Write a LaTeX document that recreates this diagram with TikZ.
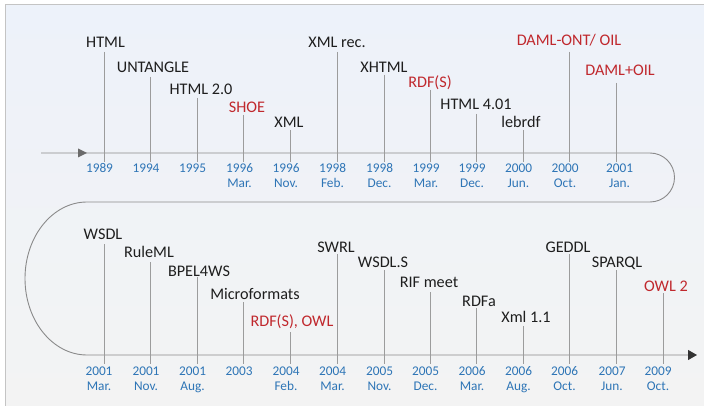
\documentclass[tikz,border=0pt]{standalone}
\usepackage{fontspec}
\setmainfont{Carlito}
\usetikzlibrary{arrows.meta}

\definecolor{evblack}{HTML}{1E1E1E}
\definecolor{evred}{HTML}{C0282D}
\definecolor{evblue}{HTML}{2E75B6}
\definecolor{axisgray}{HTML}{8A8A8A}
\definecolor{tickgray}{HTML}{9C9C9C}
\definecolor{framegray}{HTML}{C4C4C4}
\definecolor{bgtop}{HTML}{EDF2FA}
\definecolor{bgbot}{HTML}{F3F3F3}

% one dated tick: #1 name, #2 tick x, #3 tick top, #4 axis y, #5 date x, #6 year, #7 month
\newcommand{\evtick}[7]{%
  \coordinate (#1-top) at (#2,#3);
  \coordinate (#1-bot) at ({#2},{#4+9});
  \draw[tickline] (#1-top) -- (#1-bot);
  \node[datelbl] (#1-yr) at ({#5},{#4+20}) {#6};
  \if\relax\detokenize{#7}\relax\else
    \node[datelbl] (#1-mo) at ({#5},{#4+35}) {#7};
  \fi
}

\begin{document}
\begin{tikzpicture}[x=1pt,y=-1pt,
  lbl/.style={anchor=base, inner sep=0pt, text=evblack, font=\fontsize{16.2}{19}\selectfont},
  hot/.style={lbl, text=evred},
  datelbl/.style={anchor=base, inner sep=0pt, text=evblue, font=\fontsize{13.3}{15}\selectfont},
  tickline/.style={draw=tickgray, line width=0.8pt},
  axisline/.style={draw=axisgray, line width=0.9pt}]

\useasboundingbox (0,0) rectangle (704,406);

% panel background and frame
\shade[top color=bgtop, bottom color=bgbot] (5,5) rectangle (704,406);
\draw[framegray, line width=1pt] (5,406) -- (5,5) -- (704,5);

% the winding time axis
\draw[axisline, -{Triangle[length=9pt,width=10pt,color=black!80]}]
  (41,153) -- (650,153)
  arc[start angle=-90, end angle=90, radius=24.5]
  -- (87,202)
  arc[start angle=-90, end angle=-270, x radius=62, y radius=76.5]
  -- (697,355);
\fill[black!58] (78,148.5) -- (87,153) -- (78,157.5) -- cycle;

% ---- first row (axis at 153) ----
\node[lbl] (html)     at (105.5,48)  {HTML};
\node[lbl] (untangle) at (153,73)    {UNTANGLE};
\node[lbl] (htmltwo)  at (201,95)    {HTML 2.0};
\node[hot] (shoe)     at (247,113)   {SHOE};
\node[lbl] (xml)      at (289,128)   {XML};
\node[lbl] (xmlrec)   at (337,48)    {XML rec.};
\node[lbl] (xhtml)    at (384,72.5)  {XHTML};
\node[hot] (rdfs)     at (430,88)    {RDF(S)};
\node[lbl] (htmlfour) at (476,110)   {HTML 4.01};
\node[lbl] (lebrdf)   at (521,127.5) {lebrdf};
\node[hot] (damlont)  at (569,45.5)  {DAML-ONT/ OIL};
\node[hot] (damloil)  at (620,76)    {DAML+OIL};

\evtick{a1}{104}{52}{153}{99.5}{1989}{}
\evtick{a2}{150.5}{77}{153}{146}{1994}{}
\evtick{a3}{197}{98}{153}{192.5}{1995}{}
\evtick{a4}{243.5}{115}{153}{239.5}{1996}{Mar.}
\evtick{a5}{290}{130}{153}{286}{1996}{Nov.}
\evtick{a6}{337}{52}{153}{332.5}{1998}{Feb.}
\evtick{a7}{384}{75}{153}{379.5}{1998}{Dec.}
\evtick{a8}{430}{90}{153}{426}{1999}{Mar.}
\evtick{a9}{476}{114}{153}{472}{1999}{Dec.}
\evtick{a10}{523}{130}{153}{518.5}{2000}{Jun.}
\evtick{a11}{569}{52}{153}{565}{2000}{Oct.}
\evtick{a12}{616}{83}{153}{619.5}{2001}{Jan.}

% ---- second row (axis at 355) ----
\node[lbl] (wsdl)     at (103,240)   {WSDL};
\node[lbl] (ruleml)   at (149,257)   {RuleML};
\node[lbl] (bpel)     at (199,276)   {BPEL4WS};
\node[lbl] (micro)    at (255,299)   {Microformats};
\node[hot] (rdfsowl)  at (292,326)   {RDF(S), OWL};
\node[lbl] (swrl)     at (336,252)   {SWRL};
\node[lbl] (wsdls)    at (383,267)   {WSDL.S};
\node[lbl] (rif)      at (429,287)   {RIF meet};
\node[lbl] (rdfa)     at (479,306)   {RDFa};
\node[lbl] (xmlone)   at (526,322)   {Xml 1.1};
\node[lbl] (geddl)    at (568,252)   {GEDDL};
\node[lbl] (sparql)   at (617,267)   {SPARQL};
\node[hot] (owltwo)   at (666,291)   {OWL 2};

\evtick{b1}{104}{244}{355}{99}{2001}{Mar.}
\evtick{b2}{150}{262}{355}{146}{2001}{Nov.}
\evtick{b3}{197}{277}{355}{192.5}{2001}{Aug.}
\evtick{b4}{243}{302}{355}{239}{2003}{}
\evtick{b5}{290}{332}{355}{286}{2004}{Feb.}
\evtick{b6}{337}{254}{355}{332.5}{2004}{Mar.}
\evtick{b7}{384}{270}{355}{379.5}{2005}{Nov.}
\evtick{b8}{430}{292}{355}{425.5}{2005}{Dec.}
\evtick{b9}{476}{308}{355}{472}{2006}{Mar.}
\evtick{b10}{523}{326}{355}{518.5}{2006}{Aug.}
\evtick{b11}{569}{254}{355}{564.5}{2006}{Oct.}
\evtick{b12}{616}{270}{355}{612}{2007}{Jun.}
\evtick{b13}{663}{293}{355}{658}{2009}{Oct.}

\end{tikzpicture}
\end{document}
